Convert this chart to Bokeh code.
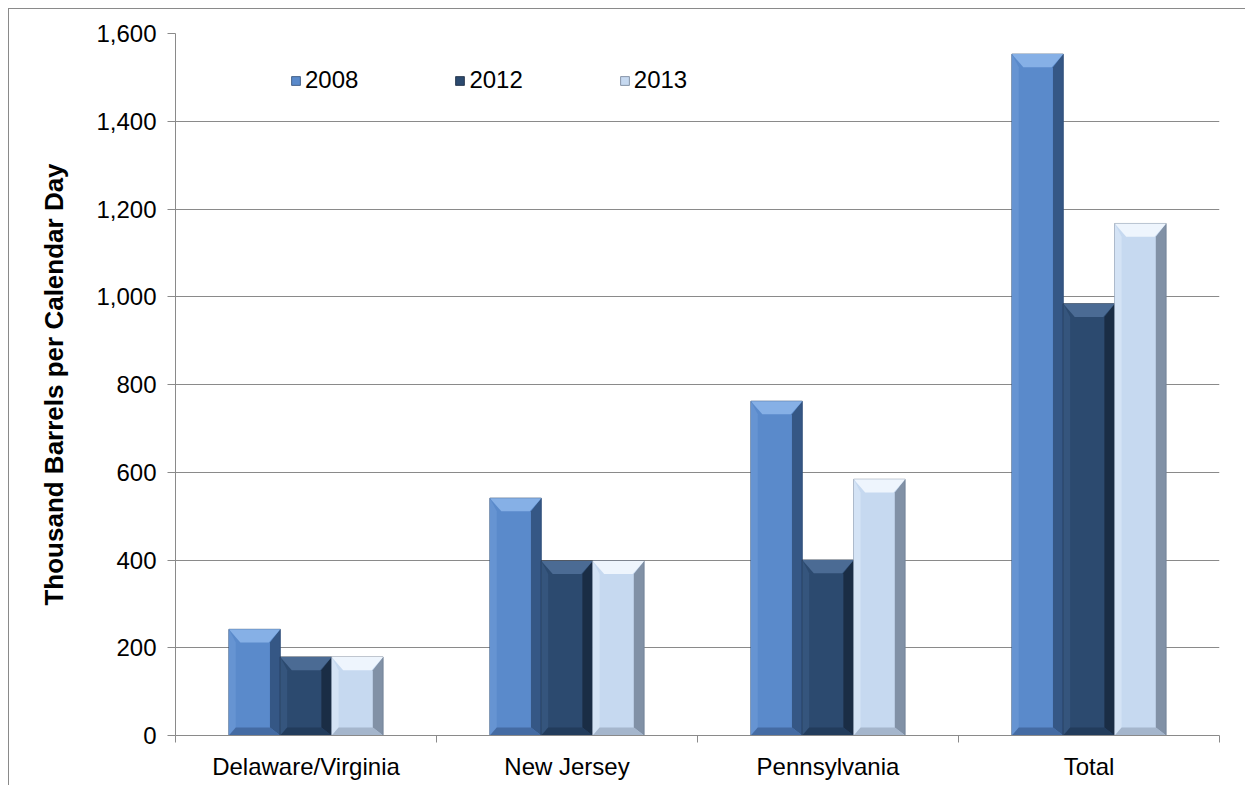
from bokeh.plotting import figure
from bokeh.models import Range1d, FixedTicker, NumeralTickFormatter, Legend, LegendItem
from bokeh.embed import file_html
from bokeh.resources import INLINE

categories = ["Delaware/Virginia", "New Jersey", "Pennsylvania", "Total"]
years = ["2008", "2012", "2013"]
v2008 = [242, 541, 762, 1553]
v2012 = [179, 398, 400, 984]
v2013 = [179, 398, 584, 1167]
y_ticks = [0, 200, 400, 600, 800, 1000, 1200, 1400, 1600]

series = [v2008, v2012, v2013]
# base, top, left, right, bottom facet colours
palettes = [
    ("#5A8ACB", "#86B0E6", "#6694D2", "#2C4A73", "#3E6398"),
    ("#2C4A6F", "#4B6B94", "#35557D", "#16263B", "#213857"),
    ("#C6D9F0", "#EEF5FD", "#D4E3F5", "#6F7E93", "#9CADC3"),
]

FONT = "Liberation Sans"
p = figure(width=1245, height=785, output_backend="svg", toolbar_location=None,
           x_range=Range1d(0, 4), y_range=Range1d(0, 1600),
           min_border_left=175, min_border_right=26, min_border_top=33, min_border_bottom=50)
p.styles = {"background": "linear-gradient(#8a8a8a, #8a8a8a) 8px 8px / 1px 100% no-repeat, "
                          "linear-gradient(#8a8a8a, #8a8a8a) 8px 8px / 100% 1px no-repeat, white"}
p.outline_line_color = None
p.background_fill_color = "white"
p.border_fill_alpha = 0

bw = 0.197
dx = 0.044
dy = 30.0
legend_items = []
for k, (vals, pal) in enumerate(zip(series, palettes)):
    base, ctop, cleft, cright, cbot = pal
    xs = [i + 0.5 + (k - 1) * bw for i in range(len(categories))]
    r = p.vbar(x=xs, top=vals, width=bw, bottom=0, fill_color=base,
               line_color=cright, line_width=0.8)
    legend_items.append(LegendItem(label=years[k], renderers=[r]))
    L = [x - bw / 2 for x in xs]
    R = [x + bw / 2 for x in xs]
    top_x = [[l, rr, rr - dx, l + dx] for l, rr in zip(L, R)]
    top_y = [[v, v, v - dy, v - dy] for v in vals]
    right_x = [[rr, rr, rr - dx * 0.9, rr - dx * 0.9] for rr in R]
    right_y = [[v, 0, dy * 0.6, v - dy] for v in vals]
    left_x = [[l, l, l + dx * 0.6, l + dx * 0.6] for l in L]
    left_y = [[v, 0, dy * 0.6, v - dy] for v in vals]
    bot_x = [[l, rr, rr - dx * 0.9, l + dx * 0.6] for l, rr in zip(L, R)]
    bot_y = [[0, 0, dy * 0.6, dy * 0.6] for _ in vals]
    p.patches(left_x, left_y, fill_color=cleft, line_color=None)
    p.patches(right_x, right_y, fill_color=cright, line_color=None, fill_alpha=0.8)
    p.patches(bot_x, bot_y, fill_color=cbot, line_color=None, fill_alpha=0.8)
    p.patches(top_x, top_y, fill_color=ctop, line_color=None)

# axes
yax = p.yaxis[0]
yax.ticker = FixedTicker(ticks=y_ticks)
yax.formatter = NumeralTickFormatter(format="0,0")
yax.axis_label = "Thousand Barrels per Calendar Day"
yax.axis_label_text_font = FONT
yax.axis_label_text_font_size = "26px"
yax.axis_label_text_font_style = "bold"
yax.axis_label_text_color = "black"
yax.axis_label_standoff = 24
yax.major_label_text_font = FONT
yax.major_label_text_font_size = "24px"
yax.major_label_text_color = "black"
yax.major_label_standoff = 11
yax.major_tick_out = 8
yax.major_tick_in = 0
yax.minor_tick_out = 0
yax.minor_tick_in = 0
yax.axis_line_color = "#8a8a8a"
yax.major_tick_line_color = "#8a8a8a"

xax = p.xaxis[0]
xax.ticker = FixedTicker(ticks=[i + 0.5 for i in range(len(categories))],
                         minor_ticks=list(range(len(categories) + 1)))
xax.major_label_overrides = {i + 0.5: c for i, c in enumerate(categories)}
xax.major_label_text_font = FONT
xax.major_label_text_font_size = "24px"
xax.major_label_text_color = "black"
xax.major_label_standoff = 10
xax.major_tick_out = 0
xax.major_tick_in = 0
xax.minor_tick_out = 7
xax.minor_tick_in = 0
xax.minor_tick_line_color = "#8a8a8a"
xax.axis_line_color = "#8a8a8a"

p.xgrid.visible = False
p.ygrid.ticker = FixedTicker(ticks=y_ticks)
p.ygrid.grid_line_color = "#8a8a8a"
p.ygrid.grid_line_width = 1.2

legend = Legend(items=legend_items, orientation="horizontal", location=(115, 641),
                glyph_width=11, glyph_height=11, label_standoff=4, spacing=96,
                padding=0, margin=0, border_line_color=None, background_fill_alpha=0,
                label_text_font=FONT, label_text_font_size="24px", label_text_color="black")
p.add_layout(legend, "center")

open("out.html", "w").write(file_html(p, INLINE))
